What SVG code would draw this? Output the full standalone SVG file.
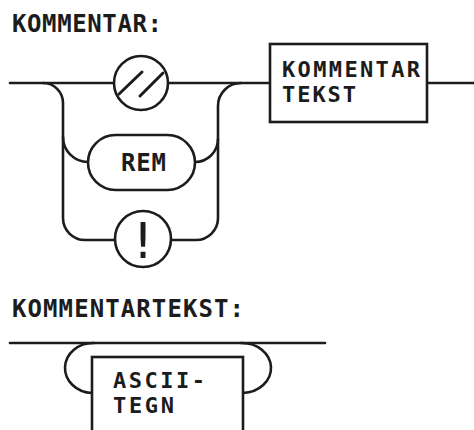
<svg xmlns="http://www.w3.org/2000/svg" width="474" height="430" viewBox="0 0 474 430">
<style>
.ln{fill:none;stroke:#1c1c1c;stroke-width:2.6;stroke-linecap:round}
.nd{fill:#fff;stroke:#1c1c1c;stroke-width:2.6}
.t{font-family:"DejaVu Sans Mono","Liberation Mono",monospace;font-weight:bold;font-size:24px;fill:#1c1c1c}
.t2{font-family:"DejaVu Sans Mono","Liberation Mono",monospace;font-weight:bold;font-size:22px;fill:#1c1c1c}
</style>
<rect width="474" height="430" fill="#fff"/>
<text class="t" x="12" y="32" textLength="150" lengthAdjust="spacing">KOMMENTAR:</text>
<text class="t" x="12" y="317" textLength="232" lengthAdjust="spacing">KOMMENTARTEKST:</text>
<g id="connectors">
<path class="ln" d="M10 83 H114 M168 83 H270 M427 83 H474"/>
<path class="ln" d="M43 83 A20 20 0 0 1 63 103 V218 A22 22 0 0 0 85 240 H115"/>
<path class="ln" d="M63 137 A25 25 0 0 0 88 162"/>
<path class="ln" d="M241 83 A23 23 0 0 0 218 106 V218 A22 22 0 0 1 196 240 H171"/>
<path class="ln" d="M195 162 A23 23 0 0 0 218 139"/>
<path class="ln" d="M10 343 H325"/>
<path class="ln" d="M94 343 A28 25 0 0 0 92 393"/>
<path class="ln" d="M241 343 A29 25 0 0 1 243 393"/>
</g>
<g id="slash">
<circle class="nd" cx="141" cy="83" r="27"/>
<path class="ln" d="M119 94 L142 72 M140 96 L163 73" style="stroke-width:3"/>
</g>
<g id="rem">
<rect class="nd" x="88" y="135" width="107" height="55" rx="27.5"/>
<text class="t" x="121" y="171" textLength="45" lengthAdjust="spacing">REM</text>
</g>
<g id="excl">
<circle class="nd" cx="143" cy="239" r="28"/>
<text x="143" y="258" text-anchor="middle" style="font-family:'DejaVu Sans',sans-serif;font-size:50px;fill:#1c1c1c">!</text>
</g>
<g id="kommentartekst">
<rect class="nd" x="270" y="44" width="157" height="78"/>
<text class="t2" x="282" y="77" textLength="138" lengthAdjust="spacing">KOMMENTAR</text>
<text class="t2" x="282" y="102" textLength="74" lengthAdjust="spacing">TEKST</text>
</g>
<g id="ascii">
<rect class="nd" x="92" y="357" width="151" height="100"/>
<text class="t2" x="113" y="388" textLength="92" lengthAdjust="spacing">ASCII-</text>
<text class="t2" x="113" y="413" textLength="61" lengthAdjust="spacing">TEGN</text>
</g>
</svg>
